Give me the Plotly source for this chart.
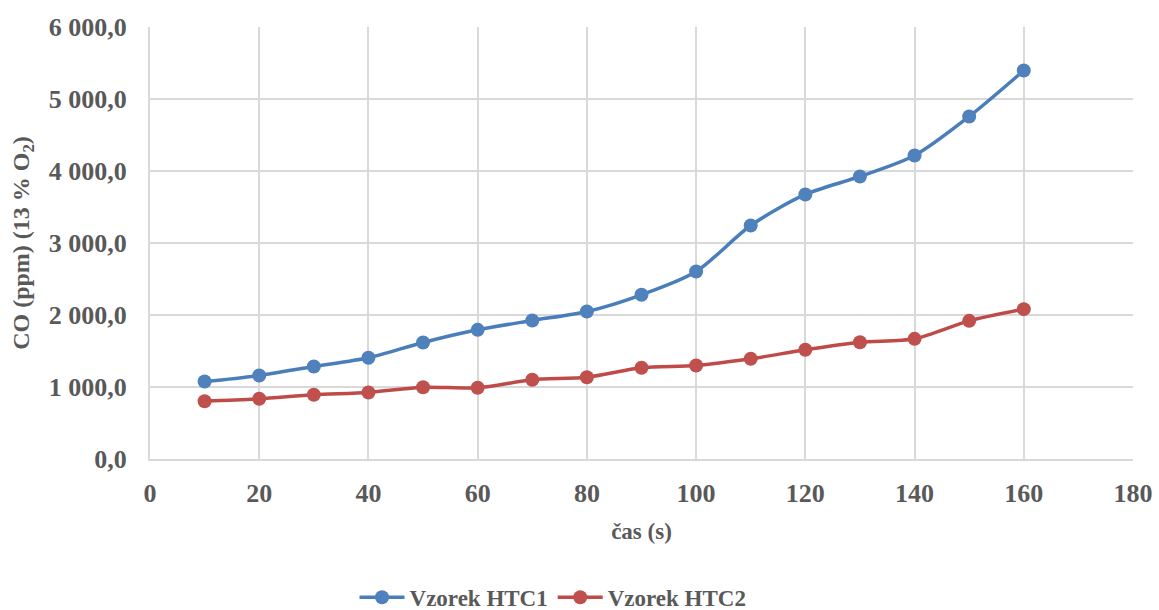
import plotly.graph_objects as go

time_s = [10, 20, 30, 40, 50, 60, 70, 80, 90, 100, 110, 120, 130, 140, 150, 160]
htc1 = [1076, 1160, 1285, 1406, 1618, 1794, 1924, 2049, 2281, 2604, 3243, 3674, 3924, 4215, 4757, 5396]
htc2 = [803, 836, 892, 924, 997, 989, 1100, 1136, 1267, 1299, 1392, 1517, 1622, 1669, 1919, 2081]

y_ticks = [0, 1000, 2000, 3000, 4000, 5000, 6000]
y_ticktext = ["0,0", "1 000,0", "2 000,0", "3 000,0", "4 000,0", "5 000,0", "6 000,0"]
x_ticks = [0, 20, 40, 60, 80, 100, 120, 140, 160, 180]

font_family = "Liberation Serif"
grey = "#595959"

fig = go.Figure()
fig.add_trace(go.Scatter(x=time_s, y=htc1, name="<b>Vzorek HTC1</b>", mode="lines+markers",
                         line=dict(color="#4a7ebb", width=3.5, shape="spline", smoothing=0.8),
                         marker=dict(size=14, color="#4f81bd")))
fig.add_trace(go.Scatter(x=time_s, y=htc2, name="<b>Vzorek HTC2</b>", mode="lines+markers",
                         line=dict(color="#be4b48", width=3.5, shape="spline", smoothing=0.8),
                         marker=dict(size=14, color="#c0504d")))

fig.update_layout(
    width=1159, height=610,
    margin=dict(l=150, r=26, t=27, b=151, autoexpand=False),
    paper_bgcolor="white", plot_bgcolor="white",
    font=dict(family=font_family, color=grey, size=24),
    showlegend=True,
    legend=dict(orientation="h", x=0.41, xanchor="center", y=-0.32, yanchor="middle",
                font=dict(family=font_family, size=23, color=grey),
                itemwidth=45, traceorder="normal"),
    xaxis=dict(range=[0, 180], tickvals=x_ticks, ticktext=["<b>%d</b>" % v for v in x_ticks],
               showgrid=True, gridcolor="#d9d9d9", gridwidth=2,
               zeroline=False, showline=True, linecolor="#d9d9d9", linewidth=2,
               ticks="", ticklabelstandoff=10,
               tickfont=dict(family=font_family, size=26, color=grey),
               title=dict(text="<b>čas (s)</b>", font=dict(family=font_family, size=23, color=grey), standoff=16)),
    yaxis=dict(range=[0, 6000], tickvals=y_ticks, ticktext=["<b>%s</b>" % t for t in y_ticktext],
               showgrid=True, gridcolor="#d9d9d9", gridwidth=2,
               zeroline=False, showline=True, linecolor="#d9d9d9", linewidth=2,
               ticks="", ticklabelstandoff=16,
               tickfont=dict(family=font_family, size=26, color=grey),
               title=dict(text="<b>CO (ppm) (13 % O<sub>2</sub>)</b>", font=dict(family=font_family, size=24, color=grey), standoff=12)),
)

fig.write_html("out.html")
